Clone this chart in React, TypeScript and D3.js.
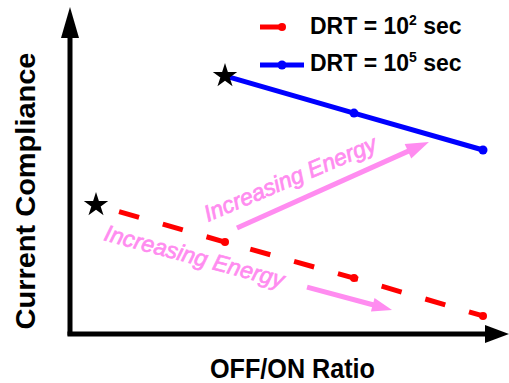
import React from 'react';
import * as d3 from 'd3';

// OFF/ON ratio steps (arbitrary units) and current compliance (arbitrary units)
const shortDrtSteps = [0, 1, 2, 3];
const shortDrtCompliance = [42.7, 30.3, 18.3, 5.7];
const longDrtSteps = [1, 2, 3];
const longDrtCompliance = [85.7, 73.3, 61.0];

const legendBases = ['DRT = 10', 'DRT = 10'];
const legendExponents = ['2', '5'];
const legendUnit = ' sec';
const xTitle = 'OFF/ON Ratio';
const yTitle = 'Current Compliance';
const annotationText = 'Increasing Energy';

// Annotation arrows, in data units: [start, end]
const upperArrow = [[1.093, 35.0], [2.581, 63.7]];
const lowerArrow = [[1.636, 15.3], [2.295, 7.7]];
const upperLabelAt = [0.868, 37.0];
const lowerLabelAt = [0.055, 31.0];

const W = 509;
const H = 383;
const RED = '#ff0000';
const BLUE = '#0000ff';
const PINK = '#ff8cf0';
const FONT = '"Liberation Sans", Arial, sans-serif';

const x = d3.scaleLinear().domain([0, 3]).range([96, 483]);
const y = d3.scaleLinear().domain([0, 100]).range([333, 33]);

const line = d3.line<[number, number]>().x(d => x(d[0])).y(d => y(d[1]));
const star = d3.symbol().type(d3.symbolStar).size(185)();

function Arrow({ from, to, len, half, width, color }: any) {
  const x0 = x(from[0]), y0 = y(from[1]);
  const x1 = x(to[0]), y1 = y(to[1]);
  const a = Math.atan2(y1 - y0, x1 - x0);
  const bx = x1 - len * Math.cos(a), by = y1 - len * Math.sin(a);
  const px = -Math.sin(a) * half, py = Math.cos(a) * half;
  return (
    <g>
      <line x1={x0} y1={y0} x2={bx + Math.cos(a)} y2={by + Math.sin(a)} stroke={color} strokeWidth={width} />
      <polygon points={`${x1},${y1} ${bx + px},${by + py} ${bx - px},${by - py}`} fill={color} />
    </g>
  );
}

export default function App() {
  const redPts = shortDrtSteps.map((s, i) => [s, shortDrtCompliance[i]] as [number, number]);
  const bluePts = longDrtSteps.map((s, i) => [s, longDrtCompliance[i]] as [number, number]);

  const x0 = 70;
  const yBase = y(0);

  const upL = [x(upperLabelAt[0]), y(upperLabelAt[1])];
  const loL = [x(lowerLabelAt[0]), y(lowerLabelAt[1])];

  const pinkText = {
    fontFamily: FONT, fontStyle: 'italic', fontSize: 23, fill: PINK,
    stroke: PINK, strokeWidth: 0.7, textLength: 185, lengthAdjust: 'spacingAndGlyphs',
  } as any;

  return (
    <svg width={W} height={H} style={{ position: 'absolute', left: 0, top: 0, background: '#fff' }}>
      {/* axes with arrowheads */}
      <line x1={x0} y1={yBase + 2.5} x2={x0} y2={36} stroke="#000" strokeWidth={5} />
      <polygon points={`${x0},7 ${x0 - 9},38 ${x0 + 9},38`} fill="#000" />
      <line x1={x0 - 2.5} y1={yBase + 1} x2={487} y2={yBase + 1} stroke="#000" strokeWidth={5} />
      <polygon points={`509,${yBase + 1} 485,${yBase - 8} 485,${yBase + 10}`} fill="#000" />

      {/* short DRT series: dashed red */}
      <path d={line(redPts) || ''} fill="none" stroke={RED} strokeWidth={5}
        strokeDasharray="20.8 24.7" strokeDashoffset={21.5} />
      {redPts.slice(1).map((p, i) => (
        <circle key={i} cx={x(p[0])} cy={y(p[1])} r={4} fill={RED} />
      ))}
      <path d={star} transform={`translate(${x(redPts[0][0])},${y(redPts[0][1])})`} fill="#000" />

      {/* long DRT series: solid blue */}
      <path d={line(bluePts) || ''} fill="none" stroke={BLUE} strokeWidth={5} />
      {bluePts.slice(1).map((p, i) => (
        <circle key={i} cx={x(p[0])} cy={y(p[1])} r={4.5} fill={BLUE} />
      ))}
      <path d={star} transform={`translate(${x(bluePts[0][0])},${y(bluePts[0][1])})`} fill="#000" />

      {/* annotations */}
      <Arrow from={upperArrow[0]} to={upperArrow[1]} len={23} half={8} width={5} color={PINK} />
      <Arrow from={lowerArrow[0]} to={lowerArrow[1]} len={20} half={7} width={5} color={PINK} />
      <text x={upL[0]} y={upL[1]} transform={`rotate(-23 ${upL[0]} ${upL[1]})`} {...pinkText}>{annotationText}</text>
      <text x={loL[0]} y={loL[1]} transform={`rotate(15 ${loL[0]} ${loL[1]})`} {...pinkText}>{annotationText}</text>

      {/* legend */}
      <line x1={260} y1={27} x2={306} y2={27} stroke={RED} strokeWidth={5} strokeDasharray="22 30" />
      <circle cx={282} cy={27} r={4} fill={RED} />
      <line x1={260} y1={65} x2={304} y2={65} stroke={BLUE} strokeWidth={5} />
      <circle cx={282} cy={65} r={4.5} fill={BLUE} />
      {legendBases.map((b, i) => (
        <text key={i} x={310} y={34 + i * 37} fontFamily={FONT} fontWeight="bold" fontSize={23} fill="#000">
          {b}
          <tspan fontSize={14} dy={-9}>{legendExponents[i]}</tspan>
          <tspan dy={9}>{legendUnit}</tspan>
        </text>
      ))}

      {/* axis titles */}
      <text x={292.5} y={377.5} textAnchor="middle" fontFamily={FONT} fontWeight="bold" fontSize={27}
        textLength={165} lengthAdjust="spacingAndGlyphs" fill="#000">{xTitle}</text>
      <text transform="translate(35,191) rotate(-90)" textAnchor="middle" fontFamily={FONT} fontWeight="bold"
        fontSize={28} textLength={277} lengthAdjust="spacingAndGlyphs" fill="#000">{yTitle}</text>
    </svg>
  );
}
